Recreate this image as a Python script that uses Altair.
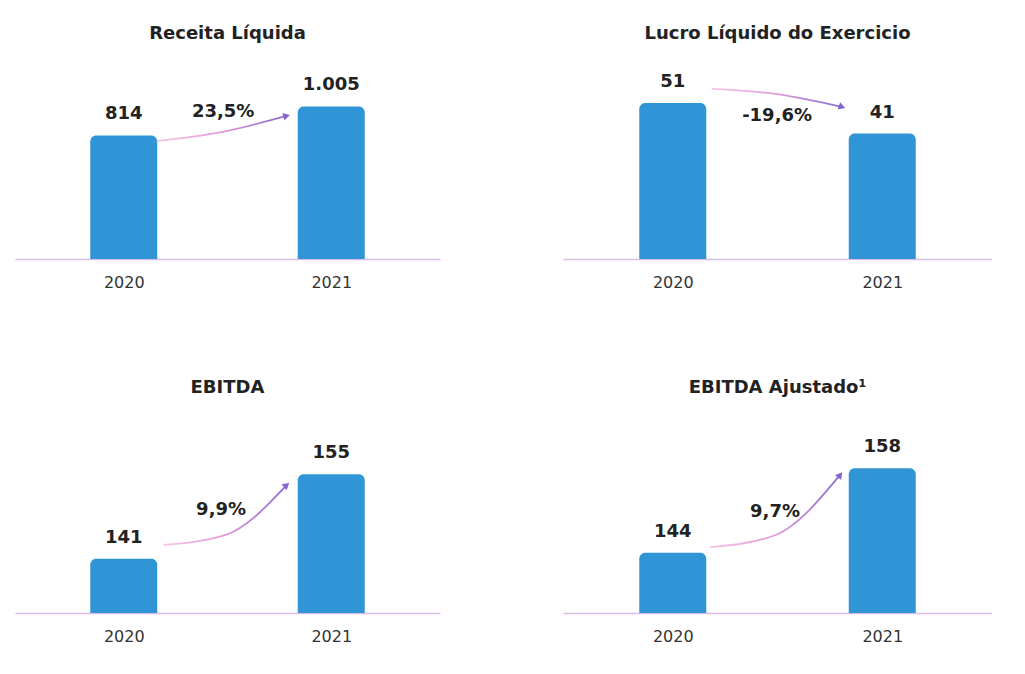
import altair as alt
import pandas as pd

years = ["2020", "2021"]
year_pos = [1, 2]
titles = ["Receita Líquida", "Lucro Líquido do Exercicio", "EBITDA", "EBITDA Ajustado¹"]

receita = [814, 1005]
receita_lbl = ["814", "1.005"]
lucro = [51, 41]
lucro_lbl = ["51", "41"]
ebitda = [141, 155]
ebitda_lbl = ["141", "155"]
ebitda_aj = [144, 158]
ebitda_aj_lbl = ["144", "158"]
variacao = ["23,5%", "-19,6%", "9,9%", "9,7%"]

values = [receita, lucro, ebitda, ebitda_aj]
labels = [receita_lbl, lucro_lbl, ebitda_lbl, ebitda_aj_lbl]

# scale domains (the original chart does not start all panels at zero)
y_domains = [[0, 1350], [0, 67], [132, 166], [134, 168]]

# curved arrow annotations (data coordinates): start, middle, end
arrow_x = [[1.159, 1.47, 1.785], [1.187, 1.498, 1.808], [1.192, 1.488, 1.785], [1.178, 1.488, 1.799]]
arrow_y = [[777, 836, 942], [55.6, 53.9, 49.7], [143.3, 144.9, 153.2], [144.9, 146.9, 156.9]]
arrow_angle = [345, 20, 320, 308]
pct_x = [1.479, 1.498, 1.469, 1.488]
pct_y = [968, 46.7, 149.1, 150.8]

BLUE = "#2f95d6"
FONT = "DejaVu Sans"
label_expr = " : ".join(
    [f"datum.value == {p} ? '{y}'" for p, y in zip(year_pos, years)] + ["''"]
)


def xenc(field):
    return alt.X(
        f"{field}:Q",
        scale=alt.Scale(domain=[0.5, 2.5]),
        axis=alt.Axis(
            values=year_pos, labelExpr=label_expr, ticks=False, grid=False, title=None,
            domainColor="#d9bde6", domainWidth=1.5, labelPadding=15, labelFontSize=16,
            labelFont=FONT, labelColor="#333333",
        ),
    )


def yenc(field, i):
    return alt.Y(f"{field}:Q", scale=alt.Scale(domain=y_domains[i], zero=False), axis=None)


def panel(i, w):
    df = pd.DataFrame({"pos": year_pos, "year": years, "value": values[i], "label": labels[i]})
    adf = pd.DataFrame({"ax": arrow_x[i], "ay": arrow_y[i], "o": [0, 1, 2]})
    pdf = pd.DataFrame({"px": [pct_x[i]], "py": [pct_y[i]], "t": [variacao[i]]})

    bars = alt.Chart(df).mark_bar(
        width=67, color=BLUE, cornerRadiusTopLeft=6, cornerRadiusTopRight=6
    ).encode(x=xenc("pos"), y=yenc("value", i), y2=alt.datum(y_domains[i][0]))

    text = alt.Chart(df).mark_text(
        dy=-21, fontSize=18, fontWeight="bold", font=FONT, color="#222222"
    ).encode(x=xenc("pos"), y=yenc("value", i), text="label:N")

    line = alt.Chart(adf).mark_line(
        interpolate="monotone", strokeWidth=1.8,
        stroke=alt.LinearGradient(
            gradient="linear",
            stops=[alt.GradientStop(offset=0, color="#f8c4e6"),
                   alt.GradientStop(offset=0.5, color="#e49ad8"),
                   alt.GradientStop(offset=1, color="#8a6bd4")],
            x1=0, x2=1, y1=0, y2=0,
        ),
    ).encode(x=xenc("ax"), y=yenc("ay", i), order="o:O")

    head = alt.Chart(adf.tail(1)).mark_point(
        shape="triangle-right", filled=True, size=60, angle=arrow_angle[i],
        color="#8563d0", opacity=1,
    ).encode(x=xenc("ax"), y=yenc("ay", i))

    pct = alt.Chart(pdf).mark_text(
        fontSize=18, fontWeight="bold", font=FONT, color="#222222"
    ).encode(x=xenc("px"), y=yenc("py", i), text="t:N")

    return alt.layer(bars, text, line, head, pct).properties(
        width=w, height=205,
        title=alt.TitleParams(
            titles[i], fontSize=18, fontWeight="bold", font=FONT, color="#222222",
            anchor="middle", offset=11,
        ),
    )


chart = alt.concat(
    panel(0, 425), panel(1, 429), panel(2, 425), panel(3, 429),
    columns=2, spacing={"row": 149, "column": 123}, bounds="flush",
).configure_view(stroke=None).properties(
    padding={"left": 15, "top": 25, "right": 0, "bottom": 0}, background="white"
)

chart.save("out.html", embed_options={"renderer": "svg", "actions": False})
